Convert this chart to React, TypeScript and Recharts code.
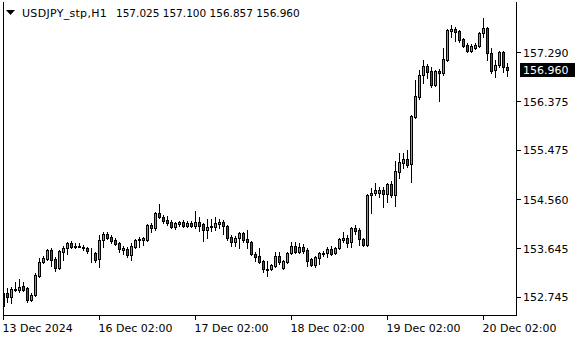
import React from 'react';
import { ComposedChart, Bar, XAxis, YAxis, ReferenceLine } from 'recharts';

const symbol = 'USDJPY_stp,H1';
const headerPrices = ['157.025', '157.100', '156.857', '156.960'];
const lastPrice = 156.96;

const opens = [
  152.584,152.824,152.750,152.890,152.880,152.954,152.917,152.695,152.787,153.140,
  153.400,153.456,153.622,153.456,153.289,153.585,153.659,153.752,153.687,153.696,
  153.678,153.659,153.595,153.567,153.456,153.808,153.919,153.863,153.808,153.752,
  153.622,153.641,153.530,153.678,153.817,153.808,153.808,154.086,154.030,154.309,
  154.234,154.179,154.142,154.049,154.105,154.142,154.067,154.123,154.067,154.142,
  154.105,153.993,154.058,154.049,154.105,154.142,154.067,153.863,153.771,153.845,
  153.938,153.826,153.771,153.548,153.511,153.419,153.270,153.270,153.326,153.511,
  153.289,153.400,153.567,153.696,153.585,153.678,153.622,153.456,153.344,153.474,
  153.558,153.567,153.641,153.567,153.659,153.808,153.845,153.771,154.030,153.993,
  153.826,153.715,154.643,154.680,154.680,154.735,154.661,154.846,154.643,155.069,
  155.236,155.310,155.218,156.090,156.461,156.869,157.036,156.943,156.683,156.943,
  156.906,157.147,157.685,157.722,157.685,157.537,157.425,157.314,157.370,157.407,
  157.648,157.741,157.277,156.961,157.054,157.295,157.025,
];
const highs = [
  152.936,152.917,152.936,153.029,153.085,153.029,152.936,152.824,153.196,153.474,
  153.511,153.641,153.659,153.493,153.622,153.696,153.771,153.789,153.752,153.752,
  153.715,153.678,153.659,153.585,153.901,153.956,153.956,153.901,153.845,153.771,
  153.696,153.678,153.752,153.826,153.863,153.863,154.105,154.123,154.327,154.476,
  154.272,154.253,154.179,154.142,154.160,154.179,154.160,154.160,154.346,154.234,
  154.123,154.197,154.197,154.234,154.197,154.179,154.086,153.901,153.882,153.956,
  153.956,153.993,153.789,153.585,153.659,153.437,153.419,153.363,153.585,153.585,
  153.437,153.585,153.771,153.771,153.752,153.734,153.659,153.474,153.511,153.585,
  153.604,153.678,153.696,153.678,153.845,153.956,153.901,154.049,154.086,154.030,
  153.845,154.661,154.772,154.865,154.791,154.791,154.865,154.902,155.273,155.422,
  155.422,155.477,156.127,156.776,156.961,157.147,157.073,157.017,156.961,156.980,
  157.370,157.722,157.796,157.759,157.703,157.555,157.462,157.444,157.462,157.666,
  157.926,157.759,157.370,157.147,157.314,157.314,157.100,
];
const lows = [
  152.528,152.658,152.639,152.862,152.843,152.862,152.658,152.676,152.769,153.122,
  153.382,153.437,153.326,153.233,153.270,153.437,153.548,153.659,153.659,153.678,
  153.622,153.567,153.400,153.400,153.308,153.678,153.826,153.752,153.715,153.585,
  153.548,153.493,153.437,153.669,153.678,153.715,153.789,153.956,153.993,154.216,
  154.123,154.086,154.030,154.012,154.067,154.049,154.049,154.049,154.030,153.975,
  153.789,153.845,153.975,153.993,154.030,153.919,153.808,153.696,153.696,153.659,
  153.771,153.659,153.530,153.419,153.382,153.215,153.140,153.251,153.308,153.363,
  153.270,153.382,153.548,153.567,153.567,153.567,153.326,153.326,153.308,153.363,
  153.511,153.493,153.530,153.548,153.641,153.771,153.678,153.678,153.919,153.715,
  153.696,153.696,154.309,154.643,154.605,154.420,154.513,154.605,154.439,154.958,
  155.143,155.162,154.884,156.071,156.424,156.720,156.813,156.646,156.665,156.386,
  156.869,157.128,157.574,157.499,157.481,157.388,157.295,157.295,157.351,157.388,
  157.574,157.147,156.906,156.832,157.017,156.924,156.857,
];
const closes = [
  152.824,152.750,152.899,152.899,152.936,152.880,152.695,152.787,153.159,153.400,
  153.474,153.622,153.437,153.289,153.604,153.659,153.752,153.678,153.696,153.687,
  153.669,153.604,153.585,153.437,153.808,153.919,153.845,153.789,153.734,153.641,
  153.659,153.530,153.696,153.808,153.826,153.845,154.086,154.030,154.309,154.234,
  154.160,154.123,154.049,154.123,154.142,154.067,154.123,154.067,154.142,154.067,
  153.993,154.049,154.067,154.123,154.142,154.067,153.845,153.771,153.845,153.938,
  153.808,153.771,153.548,153.493,153.400,153.270,153.261,153.344,153.511,153.400,
  153.419,153.567,153.696,153.585,153.678,153.604,153.419,153.344,153.493,153.567,
  153.567,153.641,153.548,153.659,153.826,153.845,153.752,154.030,153.975,153.826,
  153.715,154.643,154.680,154.735,154.735,154.661,154.846,154.643,155.088,155.255,
  155.310,155.199,156.108,156.479,156.869,157.036,156.924,156.683,156.943,156.906,
  157.165,157.703,157.722,157.666,157.518,157.407,157.314,157.407,157.425,157.648,
  157.741,157.277,156.943,157.054,157.295,157.017,156.960,
];

const xTickIndex = [0, 24, 48, 72, 96, 120];
const xTickLabels = ['13 Dec 2024', '16 Dec 02:00', '17 Dec 02:00', '18 Dec 02:00', '19 Dec 02:00', '20 Dec 02:00'];
const yTicks = [152.745, 153.645, 154.56, 155.475, 156.375, 157.29];

const data = opens.map((o, i) => ({
  i,
  open: o,
  high: highs[i],
  low: lows[i],
  close: closes[i],
  range: [lows[i], highs[i]],
}));

const FONT = 'DejaVu Sans';
const BULL = '#22e022';
const BEAR = '#dd1515';

const Candle = (props: any) => {
  const { x, y, width, height, payload } = props;
  if (!payload || x == null || y == null) return null;
  const { open, close, high, low } = payload;
  const top = Math.min(y, y + height);
  const h = Math.abs(height);
  const cx = Math.floor(x + width / 2 + 0.01) + 0.5;
  const k = high - low > 0 ? h / (high - low) : 0;
  const py = (v: number) => top + (high - v) * k;
  const bull = close >= open;
  const yT = Math.round(py(Math.max(open, close))) + 0.5;
  const yB = Math.round(py(Math.min(open, close))) + 0.5;
  const yH = Math.round(py(high));
  const yL = Math.round(py(low)) + 1;
  return (
    <g shapeRendering="crispEdges">
      <line x1={cx} x2={cx} y1={yH} y2={yL} stroke="#000" strokeWidth={1} />
      <rect x={cx - 1} y={yT} width={2} height={Math.max(yB - yT, 0)} fill={bull ? BULL : BEAR} stroke="#000" strokeWidth={1} />
    </g>
  );
};

const XTick = (props: any) => {
  const { x, y, payload } = props;
  const idx = xTickIndex.indexOf(payload.value);
  const label = idx >= 0 ? xTickLabels[idx] : '';
  return (
    <text x={x - 1} y={y} dy={10.5} textAnchor="start" fontFamily={FONT} fontSize={11} fill="#000">
      {label}
    </text>
  );
};

const YTick = (props: any) => {
  const { x, y, payload } = props;
  return (
    <text x={x + 0.5} y={y} dy={4} textAnchor="start" fontFamily={FONT} fontSize={11} fill="#000">
      {Number(payload.value).toFixed(3)}
    </text>
  );
};

const PriceLabel = (props: any) => {
  const vb = props.viewBox || {};
  const right = (vb.x || 0) + (vb.width || 0);
  const cy = vb.y || 0;
  return (
    <g>
      <rect x={right + 3.5} y={Math.round(cy) - 7} width={55} height={14} fill="#000" shapeRendering="crispEdges" />
      <text x={right + 6.5} y={Math.round(cy) + 4} fontFamily={FONT} fontSize={11} fill="#fff">
        {lastPrice.toFixed(3)}
      </text>
    </g>
  );
};

export default function App() {
  return (
    <div style={{ position: 'absolute', left: 0, top: 0, width: 580, height: 340, background: '#fff', overflow: 'hidden' }}>
      <ComposedChart width={580} height={340} data={data} margin={{ top: 2, right: 0, bottom: 0, left: 0 }}>
        <XAxis
          type="number"
          dataKey="i"
          domain={[0, 128.25]}
          ticks={xTickIndex}
          interval={0}
          tickSize={4}
          height={24.5}
          axisLine={{ stroke: '#000', shapeRendering: 'crispEdges' }}
          tickLine={{ stroke: '#000', shapeRendering: 'crispEdges' }}
          tick={<XTick />}
          allowDataOverflow
        />
        <YAxis
          yAxisId="l"
          orientation="left"
          width={3.5}
          domain={[0, 1]}
          tick={false}
          tickLine={false}
          axisLine={{ stroke: '#000', shapeRendering: 'crispEdges' }}
        />
        <YAxis
          yAxisId="r"
          orientation="right"
          width={63.5}
          domain={[152.411, 158.227]}
          ticks={yTicks}
          interval={0}
          tickSize={4}
          axisLine={{ stroke: '#000', shapeRendering: 'crispEdges' }}
          tickLine={{ stroke: '#000', shapeRendering: 'crispEdges' }}
          tick={<YTick />}
          allowDataOverflow
        />
        <Bar yAxisId="r" dataKey="range" barSize={3} shape={<Candle />} isAnimationActive={false} />
        <ReferenceLine yAxisId="r" y={lastPrice} stroke="none" label={<PriceLabel />} />
      </ComposedChart>
      <svg width={580} height={30} style={{ position: 'absolute', left: 0, top: 0, pointerEvents: 'none' }}>
        <polygon points="6,10 15,10 10.5,15" fill="#000" />
        <text x={22} y={17} fontFamily={FONT} fontSize={11} letterSpacing={0.3} fill="#000">{symbol}</text>
        <text x={116} y={17} fontFamily={FONT} fontSize={10.5} fill="#000" xmlSpace="preserve">{headerPrices.join(' ')}</text>
      </svg>
    </div>
  );
}
